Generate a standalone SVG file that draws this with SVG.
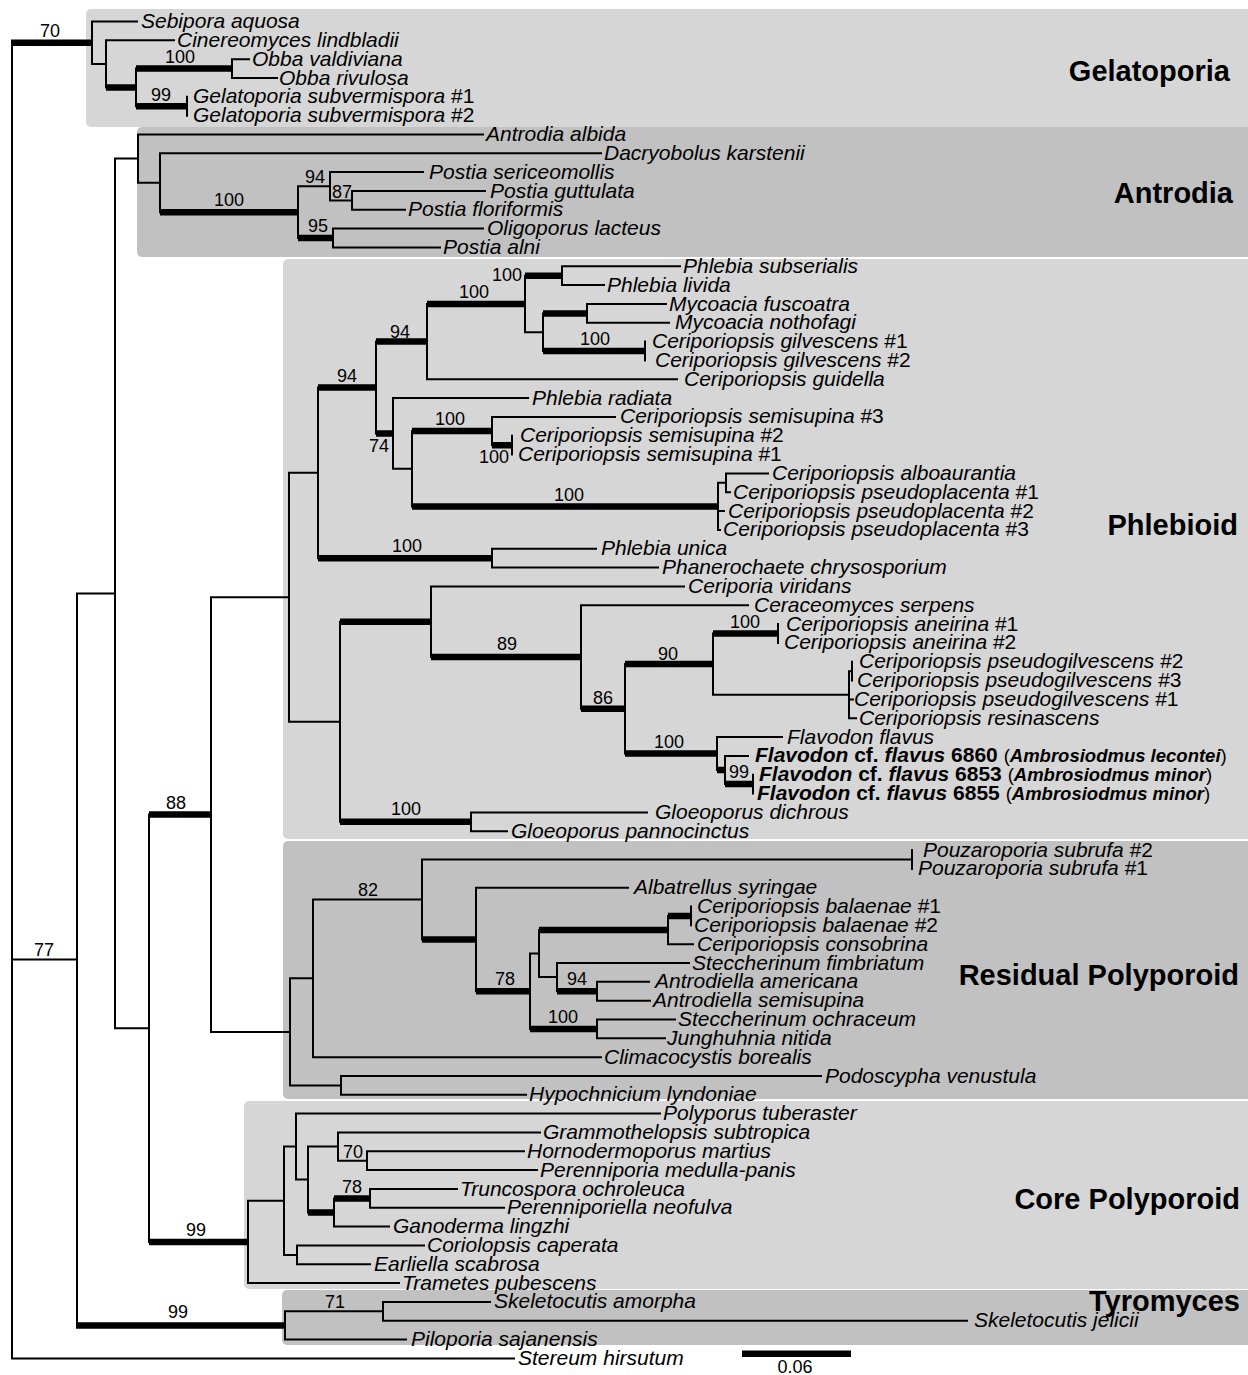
<svg xmlns="http://www.w3.org/2000/svg" width="1248" height="1375" viewBox="0 0 1248 1375">
<style>
.pl{fill:#d6d6d6}.pd{fill:#c1c1c1}
.tn{fill:none;stroke:#000;stroke-width:2;stroke-linecap:square}
.tk{fill:none;stroke:#000;stroke-width:6.5;stroke-linecap:butt}
text{font-family:"Liberation Sans",Arial,sans-serif;fill:#000}
.tp{font-size:21px;font-style:italic}
.bs{font-size:18px;text-anchor:middle}
.cl{font-size:29px;font-weight:bold;text-anchor:end}
.fb{font-size:21px;font-weight:bold}
.sm{font-size:18.5px}
</style>
<g id="panels">
<rect class="pl" x="86" y="9" width="1180" height="118" rx="5"/>
<rect class="pd" x="137" y="127" width="1130" height="130" rx="5"/>
<rect class="pl" x="283" y="259" width="985" height="580" rx="5"/>
<rect class="pd" x="283" y="841" width="985" height="258" rx="5"/>
<rect class="pl" x="244" y="1101" width="1024" height="188" rx="5"/>
<rect class="pd" x="282" y="1290" width="986" height="55" rx="5"/>
</g>
<g id="connectors">
<path class="tn" d="M12 42.7V1358.4 M12 959.45H77 M12 1358.4H514
M92 21.5V63.9 M92 21.5H137 M92 63.9H106 M106 40.3V87.4 M106 40.3H174 M136 68.6V106.25 M232 59.2V78 M232 59.2H249 M232 78H277 M187 96.8V115.7
M77 593.4V1325.5 M77 593.4H115 M115 158.6V1028.25 M115 158.6H138 M115 1028.25H149
M138 134.5V182.7 M138 134.5H483 M138 182.7H160 M160 153.3V212.15 M160 153.3H601 M298 186.25V238.05 M298 186.25H330 M330 172.1V200.4 M330 172.1H423 M330 200.4H352 M352 191V209.8 M352 191H485 M352 209.8H405 M333 228.6V247.5 M333 228.6H483 M333 247.5H440
M149 814.6V1241.9 M211 597.3V1031.9 M211 597.3H289 M211 1031.9H290
M289 472.8V721.75 M289 472.8H318 M289 721.75H340 M318 387.5V558.15 M376 341.6V433.4 M427 303.95V379.3 M427 379.3H677 M525 275.7V332.2 M525 332.2H543 M562 266.3V285.1 M562 266.3H680 M562 285.1H604 M543 313.4V351 M587 304V322.8 M587 304H666 M587 322.8H669 M645 341.6V360.4
M393 398.1V468.7 M393 398.1H528 M393 468.7H412 M412 431.05V506.4 M492 416.9V445.2 M492 416.9H615 M512 435.8V454.6 M718 482.85V529.9 M718 482.85H726 M718 511.1H724 M718 529.9H720 M726 473.4V492.3 M726 473.4H768 M726 492.3H730
M492 548.7V567.6 M492 548.7H596 M492 567.6H658
M340 621.7V821.8 M431 586.4V657 M431 586.4H684 M581 605.2V708.8 M581 605.2H748 M625 664.1V753.5 M713 633.5V694.7 M713 694.7H849 M778 624.1V642.9 M849 671.15V718.2 M849 671.15H852 M849 699.4H853 M849 718.2H856 M852 661.7V680.6
M717 737V770 M717 737H782 M725 755.9V784.1 M725 755.9H748 M753 774.7V793.5 M471 812.4V831.2 M471 812.4H647 M471 831.2H507
M290 978.35V1085.4 M290 978.35H313 M290 1085.4H341 M313 899.5V1057.2 M313 899.5H422 M313 1057.2H601 M422 859.45V939.5 M422 859.45H912 M912 850V868.9 M476 887.7V991.25 M476 887.7H628 M530 953.6V1028.9 M530 953.6H539 M539 930.05V977.1 M539 977.1H557 M668 915.9V944.2 M668 944.2H693 M691 906.5V925.3 M557 963V991.25 M557 963H689 M597 981.8V1000.7 M597 981.8H649 M597 1000.7H650 M597 1019.5V1038.3 M597 1019.5H675 M597 1038.3H665 M341 1076V1094.8 M341 1076H821 M341 1094.8H526
M248 1200.75V1283.1 M248 1200.75H284 M248 1283.1H399 M284 1146.6V1254.9 M284 1146.6H296 M284 1254.9H297 M296 1113.6V1179.55 M296 1113.6H660 M296 1179.55H308 M308 1146.6V1212.5 M308 1146.6H338 M338 1132.5V1160.7 M338 1132.5H540 M338 1160.7H367 M367 1151.3V1170.1 M367 1151.3H524 M367 1170.1H537 M334 1198.4V1226.6 M334 1226.6H389 M370 1189V1207.8 M370 1189H457 M370 1207.8H504 M297 1245.5V1264.3 M297 1245.5H424 M297 1264.3H370
M285 1311.35V1339.6 M285 1311.35H383 M285 1339.6H406 M383 1301.9V1320.8 M383 1301.9H490 M383 1320.8H967"/>
<path class="tk" d="M11 42.7H92 M106 87.4H136 M136 68.6H232 M136 106.25H187
M160 212.15H298 M298 238.05H333 M76 1325.5H285 M149 814.6H211 M149 1241.9H248
M318 387.5H376 M318 558.15H492 M376 341.6H427 M376 433.4H393 M427 303.95H525 M525 275.7H562 M543 313.4H587 M543 351H645 M412 431.05H492 M412 506.4H718 M492 445.2H512
M340 621.7H431 M340 821.8H471 M431 657H581 M581 708.8H625 M625 664.1H713 M625 753.5H717 M713 633.5H778 M717 770H725 M725 784.1H753
M422 939.5H476 M476 991.25H530 M530 1028.9H597 M539 930.05H668 M668 915.9H691 M557 991.25H597
M308 1212.5H334 M334 1198.4H370"/>
<rect x="742" y="1350.5" width="109" height="6.5"/>
</g>
<g id="support">
<text class="bs" x="50" y="37">70</text>
<text class="bs" x="180" y="63">100</text>
<text class="bs" x="161" y="100.5">99</text>
<text class="bs" x="229" y="206">100</text>
<text class="bs" x="315" y="183">94</text>
<text class="bs" x="342" y="197.5">87</text>
<text class="bs" x="318" y="232">95</text>
<text class="bs" x="507" y="280.5">100</text>
<text class="bs" x="474" y="297.5">100</text>
<text class="bs" x="400" y="337.5">94</text>
<text class="bs" x="595" y="345">100</text>
<text class="bs" x="347" y="382">94</text>
<text class="bs" x="379" y="451.5">74</text>
<text class="bs" x="450" y="425">100</text>
<text class="bs" x="494" y="462.5">100</text>
<text class="bs" x="569" y="501">100</text>
<text class="bs" x="407" y="551.5">100</text>
<text class="bs" x="507" y="650">89</text>
<text class="bs" x="668" y="659.5">90</text>
<text class="bs" x="603" y="703.5">86</text>
<text class="bs" x="745" y="628">100</text>
<text class="bs" x="669" y="747.5">100</text>
<text class="bs" x="739" y="777.5">99</text>
<text class="bs" x="406" y="815">100</text>
<text class="bs" x="176" y="809">88</text>
<text class="bs" x="44" y="955.5">77</text>
<text class="bs" x="368" y="895.5">82</text>
<text class="bs" x="505" y="984.5">78</text>
<text class="bs" x="577" y="984.5">94</text>
<text class="bs" x="563" y="1022.5">100</text>
<text class="bs" x="353" y="1158">70</text>
<text class="bs" x="352" y="1193">78</text>
<text class="bs" x="196" y="1235.5">99</text>
<text class="bs" x="178" y="1318">99</text>
<text class="bs" x="335" y="1307.5">71</text>
<text class="bs" x="795" y="1373">0.06</text>
</g>
<g id="clades">
<text class="cl" x="1230" y="81">Gelatoporia</text>
<text class="cl" x="1233" y="203">Antrodia</text>
<text class="cl" x="1238" y="535">Phlebioid</text>
<text class="cl" x="1239" y="985">Residual Polyporoid</text>
<text class="cl" x="1240" y="1209">Core Polyporoid</text>
<text class="cl" x="1240" y="1311">Tyromyces</text>
</g>
<g id="tips">
<g id="t1"><text class="tp" x="141" y="28">Sebipora aquosa</text></g>
<g id="t2"><text class="tp" x="177" y="46.8">Cinereomyces lindbladii</text></g>
<g id="t3"><text class="tp" x="252" y="65.7">Obba valdiviana</text></g>
<g id="t4"><text class="tp" x="279" y="84.5">Obba rivulosa</text></g>
<g id="t5"><text class="tp" x="193" y="103.3">Gelatoporia subvermispora <tspan font-style="normal">#1</tspan></text></g>
<g id="t6"><text class="tp" x="193" y="122.2">Gelatoporia subvermispora <tspan font-style="normal">#2</tspan></text></g>
<g id="t7"><text class="tp" x="486" y="141">Antrodia albida</text></g>
<g id="t8"><text class="tp" x="604" y="159.8">Dacryobolus karstenii</text></g>
<g id="t9"><text class="tp" x="429" y="178.6">Postia sericeomollis</text></g>
<g id="t10"><text class="tp" x="490" y="197.5">Postia guttulata</text></g>
<g id="t11"><text class="tp" x="408" y="216.3">Postia floriformis</text></g>
<g id="t12"><text class="tp" x="487" y="235.1">Oligoporus lacteus</text></g>
<g id="t13"><text class="tp" x="443" y="254">Postia alni</text></g>
<g id="t14"><text class="tp" x="683" y="272.8">Phlebia subserialis</text></g>
<g id="t15"><text class="tp" x="607" y="291.6">Phlebia livida</text></g>
<g id="t16"><text class="tp" x="669" y="310.5">Mycoacia fuscoatra</text></g>
<g id="t17"><text class="tp" x="675" y="329.3">Mycoacia nothofagi</text></g>
<g id="t18"><text class="tp" x="652" y="348.1">Ceriporiopsis gilvescens <tspan font-style="normal">#1</tspan></text></g>
<g id="t19"><text class="tp" x="655" y="366.9">Ceriporiopsis gilvescens <tspan font-style="normal">#2</tspan></text></g>
<g id="t20"><text class="tp" x="684" y="385.8">Ceriporiopsis guidella</text></g>
<g id="t21"><text class="tp" x="532" y="404.6">Phlebia radiata</text></g>
<g id="t22"><text class="tp" x="620" y="423.4">Ceriporiopsis semisupina <tspan font-style="normal">#3</tspan></text></g>
<g id="t23"><text class="tp" x="520" y="442.3">Ceriporiopsis semisupina <tspan font-style="normal">#2</tspan></text></g>
<g id="t24"><text class="tp" x="518" y="461.1">Ceriporiopsis semisupina <tspan font-style="normal">#1</tspan></text></g>
<g id="t25"><text class="tp" x="772" y="479.9">Ceriporiopsis alboaurantia</text></g>
<g id="t26"><text class="tp" x="733" y="498.8">Ceriporiopsis pseudoplacenta <tspan font-style="normal">#1</tspan></text></g>
<g id="t27"><text class="tp" x="728" y="517.6">Ceriporiopsis pseudoplacenta <tspan font-style="normal">#2</tspan></text></g>
<g id="t28"><text class="tp" x="723" y="536.4">Ceriporiopsis pseudoplacenta <tspan font-style="normal">#3</tspan></text></g>
<g id="t29"><text class="tp" x="601" y="555.2">Phlebia unica</text></g>
<g id="t30"><text class="tp" x="662" y="574.1">Phanerochaete chrysosporium</text></g>
<g id="t31"><text class="tp" x="688" y="592.9">Ceriporia viridans</text></g>
<g id="t32"><text class="tp" x="754" y="611.7">Ceraceomyces serpens</text></g>
<g id="t33"><text class="tp" x="786" y="630.6">Ceriporiopsis aneirina <tspan font-style="normal">#1</tspan></text></g>
<g id="t34"><text class="tp" x="784" y="649.4">Ceriporiopsis aneirina <tspan font-style="normal">#2</tspan></text></g>
<g id="t35"><text class="tp" x="859" y="668.2">Ceriporiopsis pseudogilvescens <tspan font-style="normal">#2</tspan></text></g>
<g id="t36"><text class="tp" x="857" y="687.1">Ceriporiopsis pseudogilvescens <tspan font-style="normal">#3</tspan></text></g>
<g id="t37"><text class="tp" x="854" y="705.9">Ceriporiopsis pseudogilvescens <tspan font-style="normal">#1</tspan></text></g>
<g id="t38"><text class="tp" x="859" y="724.7">Ceriporiopsis resinascens</text></g>
<g id="t39"><text class="tp" x="787" y="743.5">Flavodon flavus</text></g>
<g id="t40"><text class="fb" x="755" y="762.4"><tspan font-style="italic">Flavodon</tspan> cf. <tspan font-style="italic">flavus</tspan> 6860 <tspan class="sm" font-weight="normal">(</tspan><tspan class="sm" font-style="italic">Ambrosiodmus lecontei</tspan><tspan class="sm" font-weight="normal">)</tspan></text></g>
<g id="t41"><text class="fb" x="759" y="781.2"><tspan font-style="italic">Flavodon</tspan> cf. <tspan font-style="italic">flavus</tspan> 6853 <tspan class="sm" font-weight="normal">(</tspan><tspan class="sm" font-style="italic">Ambrosiodmus minor</tspan><tspan class="sm" font-weight="normal">)</tspan></text></g>
<g id="t42"><text class="fb" x="757" y="800"><tspan font-style="italic">Flavodon</tspan> cf. <tspan font-style="italic">flavus</tspan> 6855 <tspan class="sm" font-weight="normal">(</tspan><tspan class="sm" font-style="italic">Ambrosiodmus minor</tspan><tspan class="sm" font-weight="normal">)</tspan></text></g>
<g id="t43"><text class="tp" x="655" y="818.9">Gloeoporus dichrous</text></g>
<g id="t44"><text class="tp" x="511" y="837.7">Gloeoporus pannocinctus</text></g>
<g id="t45"><text class="tp" x="923" y="856.5">Pouzaroporia subrufa <tspan font-style="normal">#2</tspan></text></g>
<g id="t46"><text class="tp" x="918" y="875.4">Pouzaroporia subrufa <tspan font-style="normal">#1</tspan></text></g>
<g id="t47"><text class="tp" x="634" y="894.2">Albatrellus syringae</text></g>
<g id="t48"><text class="tp" x="697" y="913">Ceriporiopsis balaenae <tspan font-style="normal">#1</tspan></text></g>
<g id="t49"><text class="tp" x="694" y="931.8">Ceriporiopsis balaenae <tspan font-style="normal">#2</tspan></text></g>
<g id="t50"><text class="tp" x="697" y="950.7">Ceriporiopsis consobrina</text></g>
<g id="t51"><text class="tp" x="692" y="969.5">Steccherinum fimbriatum</text></g>
<g id="t52"><text class="tp" x="655" y="988.3">Antrodiella americana</text></g>
<g id="t53"><text class="tp" x="653" y="1007.2">Antrodiella semisupina</text></g>
<g id="t54"><text class="tp" x="678" y="1026">Steccherinum ochraceum</text></g>
<g id="t55"><text class="tp" x="667" y="1044.8">Junghuhnia nitida</text></g>
<g id="t56"><text class="tp" x="604" y="1063.7">Climacocystis borealis</text></g>
<g id="t57"><text class="tp" x="825" y="1082.5">Podoscypha venustula</text></g>
<g id="t58"><text class="tp" x="529" y="1101.3">Hypochnicium lyndoniae</text></g>
<g id="t59"><text class="tp" x="663" y="1120.1">Polyporus tuberaster</text></g>
<g id="t60"><text class="tp" x="543" y="1139">Grammothelopsis subtropica</text></g>
<g id="t61"><text class="tp" x="527" y="1157.8">Hornodermoporus martius</text></g>
<g id="t62"><text class="tp" x="540" y="1176.6">Perenniporia medulla-panis</text></g>
<g id="t63"><text class="tp" x="460" y="1195.5">Truncospora ochroleuca</text></g>
<g id="t64"><text class="tp" x="507" y="1214.3">Perenniporiella neofulva</text></g>
<g id="t65"><text class="tp" x="393" y="1233.1">Ganoderma lingzhi</text></g>
<g id="t66"><text class="tp" x="427" y="1252">Coriolopsis caperata</text></g>
<g id="t67"><text class="tp" x="374" y="1270.8">Earliella scabrosa</text></g>
<g id="t68"><text class="tp" x="402" y="1289.6">Trametes pubescens</text></g>
<g id="t69"><text class="tp" x="494" y="1308.4">Skeletocutis amorpha</text></g>
<g id="t70"><text class="tp" x="974" y="1327.3">Skeletocutis jelicii</text></g>
<g id="t71"><text class="tp" x="411" y="1346.1">Piloporia sajanensis</text></g>
<g id="t72"><text class="tp" x="518" y="1364.9">Stereum hirsutum</text></g>
</g>
</svg>
